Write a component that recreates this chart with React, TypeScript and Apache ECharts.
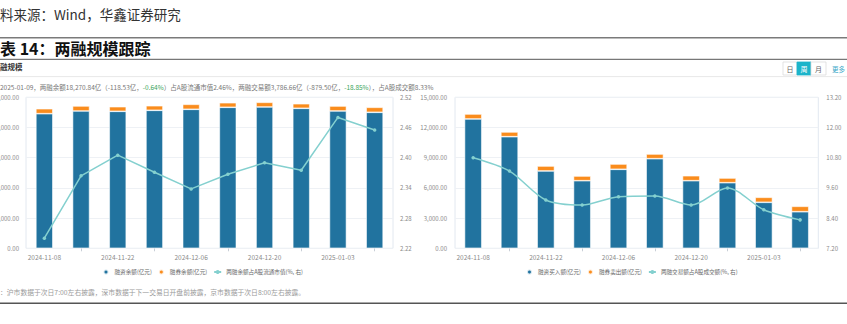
import React, { useEffect, useRef } from "react";
import * as echarts from "echarts";

const categories = ["2024-11-08", "2024-11-15", "2024-11-22", "2024-11-29", "2024-12-06", "2024-12-13", "2024-12-20", "2024-12-27", "2025-01-03", "2025-01-09"];
const marginBalance = [17830, 18185, 18145, 18278, 18410, 18675, 18714, 18543, 18185, 18013];
const shortBalance = [662, 663, 609, 609, 662, 609, 622, 609, 662, 662];
const balanceRatio = [2.24, 2.364, 2.405, 2.371, 2.338, 2.367, 2.39, 2.375, 2.48, 2.455];
const marginBuy = [12845, 11087, 7679, 6715, 7848, 8901, 6715, 6517, 4570, 3636];
const shortSell = [497, 466, 497, 467, 526, 467, 497, 467, 496, 536];
const turnoverRatio = [10.8, 10.27, 9.12, 8.92, 9.25, 9.28, 8.92, 9.6, 8.73, 8.33];

const leftNames = ["融资余额(亿元)", "融券余额(亿元)", "两融余额占A股流通市值(%, 右)"];
const rightNames = ["融资买入额(亿元)", "融券卖出额(亿元)", "两融交易额占A股成交额(%, 右)"];

const BLUE = "#21739f";
const ORANGE = "#fa8c1c";
const TEAL = "#84d0cf";
const FONT = "'Noto Sans CJK SC', 'Noto Sans', sans-serif";

function fmtThousands(v: number): string {
  const s = v.toFixed(2);
  const [i, d] = s.split(".");
  return i.replace(/\B(?=(\d{3})+(?!\d))/g, ",") + "." + d;
}

export default function App() {
  const ref = useRef<HTMLDivElement>(null);
  useEffect(() => {
    if (!ref.current) return;
    const chart = echarts.init(ref.current, undefined, { renderer: "svg" });
    const axisLabel = { color: "#8a8a8a", fontSize: 6, fontFamily: FONT };
    const xAxisCommon = {
      type: "category" as const,
      data: categories,
      boundaryGap: true,
      axisLine: { show: false },
      axisTick: {
        show: true,
        alignWithLabel: true,
        interval: (i: number) => i % 2 === 1,
        length: 3,
        lineStyle: { color: "#c8ced6" },
      },
      axisLabel: { ...axisLabel, fontSize: 6.5, interval: 1, margin: 5 },
    };
    const splitLine = { show: true, lineStyle: { color: "#eef1f5", width: 1 } };
    const barItem = (c: string) => ({ color: c, borderColor: "rgba(255,255,255,0.8)", borderWidth: 0.7 });
    const legendCommon = {
      orient: "horizontal" as const,
      itemWidth: 7,
      itemHeight: 5,
      itemGap: 6,
      textStyle: { color: "#666", fontSize: 5.6, fontFamily: FONT },
      padding: 0,
    };

    chart.setOption({
      animation: false,
      backgroundColor: "#ffffff",
      textStyle: { fontFamily: FONT },
      grid: [
        { left: 26, top: 97.3, width: 367, height: 151, show: true, borderColor: "#e2e8f0", borderWidth: 1, containLabel: false, outerBoundsMode: "none" },
        { left: 455, top: 97.3, width: 363.3, height: 151, show: true, borderColor: "#e2e8f0", borderWidth: 1, containLabel: false, outerBoundsMode: "none" },
      ],
      xAxis: [
        { ...xAxisCommon, gridIndex: 0 },
        { ...xAxisCommon, gridIndex: 1 },
      ],
      yAxis: [
        { type: "value", gridIndex: 0, min: 0, max: 20000, interval: 4000, axisLine: { show: false }, axisTick: { show: false }, splitLine, axisLabel: { ...axisLabel, margin: 7, formatter: (v: number) => fmtThousands(v) } },
        { type: "value", gridIndex: 0, position: "right", min: 2.22, max: 2.52, interval: 0.06, axisLine: { show: false }, axisTick: { show: false }, splitLine: { show: false }, axisLabel: { ...axisLabel, margin: 7, formatter: (v: number) => v.toFixed(2) } },
        { type: "value", gridIndex: 1, min: 0, max: 15000, interval: 3000, axisLine: { show: false }, axisTick: { show: false }, splitLine, axisLabel: { ...axisLabel, margin: 8, formatter: (v: number) => fmtThousands(v) } },
        { type: "value", gridIndex: 1, position: "right", min: 7.2, max: 13.2, interval: 1.2, axisLine: { show: false }, axisTick: { show: false }, splitLine: { show: false }, axisLabel: { ...axisLabel, margin: 8, formatter: (v: number) => v.toFixed(2) } },
      ],
      legend: [
        { ...legendCommon, left: 102.5, top: 268.5, data: [{ name: leftNames[0], icon: "circle" }, { name: leftNames[1], icon: "circle" }, { name: leftNames[2] }] },
        { ...legendCommon, left: 526, top: 268.5, data: [{ name: rightNames[0], icon: "circle" }, { name: rightNames[1], icon: "circle" }, { name: rightNames[2] }] },
      ],
      series: [
        { name: leftNames[0], type: "bar", stack: "l", xAxisIndex: 0, yAxisIndex: 0, barWidth: 17, data: marginBalance, itemStyle: barItem(BLUE) },
        { name: leftNames[1], type: "bar", stack: "l", xAxisIndex: 0, yAxisIndex: 0, barWidth: 17, data: shortBalance, itemStyle: barItem(ORANGE) },
        { name: leftNames[2], type: "line", xAxisIndex: 0, yAxisIndex: 1, data: balanceRatio, symbol: "circle", symbolSize: 3.5, lineStyle: { color: TEAL, width: 1.5 }, itemStyle: { color: TEAL } },
        { name: rightNames[0], type: "bar", stack: "r", xAxisIndex: 1, yAxisIndex: 2, barWidth: 17.3, data: marginBuy, itemStyle: barItem(BLUE) },
        { name: rightNames[1], type: "bar", stack: "r", xAxisIndex: 1, yAxisIndex: 2, barWidth: 17.3, data: shortSell, itemStyle: barItem(ORANGE) },
        { name: rightNames[2], type: "line", xAxisIndex: 1, yAxisIndex: 3, data: turnoverRatio, smooth: 0.3, symbol: "circle", symbolSize: 3.5, lineStyle: { color: TEAL, width: 1.5 }, itemStyle: { color: TEAL } },
      ],
      graphic: [
        { type: "text", left: 0, top: 7, style: { text: "料来源：Wind，华鑫证券研究", fill: "#333", font: `13.5px ${FONT}` } },
        { type: "line", shape: { x1: 0, y1: 37.7, x2: 847, y2: 37.7 }, style: { stroke: "#7a7a7a", lineWidth: 1.5 } },
        { type: "text", left: 0, top: 40, style: { text: "表 14：两融规模跟踪", fill: "#111", font: `bold 16px ${FONT}` } },
        { type: "line", shape: { x1: 0, y1: 59.3, x2: 847, y2: 59.3 }, style: { stroke: "#555", lineWidth: 1 } },
        { type: "text", left: 0, top: 63, style: { text: "融规模", fill: "#333", font: `bold 7.5px ${FONT}` } },
        { type: "rect", shape: { x: 783, y: 62, width: 14, height: 13 }, style: { fill: "#fff", stroke: "#dcdcdc", lineWidth: 0.8 } },
        { type: "rect", shape: { x: 797, y: 62, width: 14, height: 13 }, style: { fill: "#1cb4ca", stroke: "#1cb4ca", lineWidth: 0.8 } },
        { type: "rect", shape: { x: 811, y: 62, width: 15, height: 13 }, style: { fill: "#fff", stroke: "#dcdcdc", lineWidth: 0.8 } },
        { type: "text", x: 790, y: 68.5, style: { text: "日", fill: "#666", font: `7px ${FONT}`, align: "center", verticalAlign: "middle" } },
        { type: "text", x: 804, y: 68.5, style: { text: "周", fill: "#fff", font: `7px ${FONT}`, align: "center", verticalAlign: "middle" } },
        { type: "text", x: 818.5, y: 68.5, style: { text: "月", fill: "#666", font: `7px ${FONT}`, align: "center", verticalAlign: "middle" } },
        { type: "text", x: 832, y: 68.5, style: { text: "更多", fill: "#3aa8c8", font: `6.5px ${FONT}`, verticalAlign: "middle" } },
        { type: "line", shape: { x1: 0, y1: 76.6, x2: 847, y2: 76.6 }, style: { stroke: "#e8e8e8", lineWidth: 1 } },
        {
          type: "text",
          x: 0,
          y: 87,
          style: {
            text: "2025-01-09，两融余额18,270.84亿（-118.53亿，{g|-0.64%}）占A股流通市值2.46%，两融交易额3,786.66亿（-879.50亿，{g|-18.85%}），占A股成交额8.33%",
            fill: "#777",
            font: `6.5px ${FONT}`,
            verticalAlign: "middle",
            rich: { g: { fill: "#3aa55a", fontSize: 6.5, fontFamily: FONT } },
          },
        },
        { type: "text", x: 0, y: 292, style: { text: "：沪市数据于次日7:00左右披露，深市数据于下一交易日开盘前披露，京市数据于次日8:00左右披露。", fill: "#9a9a9a", font: `6.8px ${FONT}`, verticalAlign: "middle" } },
        { type: "line", shape: { x1: 0, y1: 303.3, x2: 847, y2: 303.3 }, style: { stroke: "#555", lineWidth: 1.5 } },
      ],
    });
    return () => chart.dispose();
  }, []);
  return <div ref={ref} style={{ position: "absolute", left: 0, top: 0, width: 847, height: 324, background: "#fff" }} />;
}
